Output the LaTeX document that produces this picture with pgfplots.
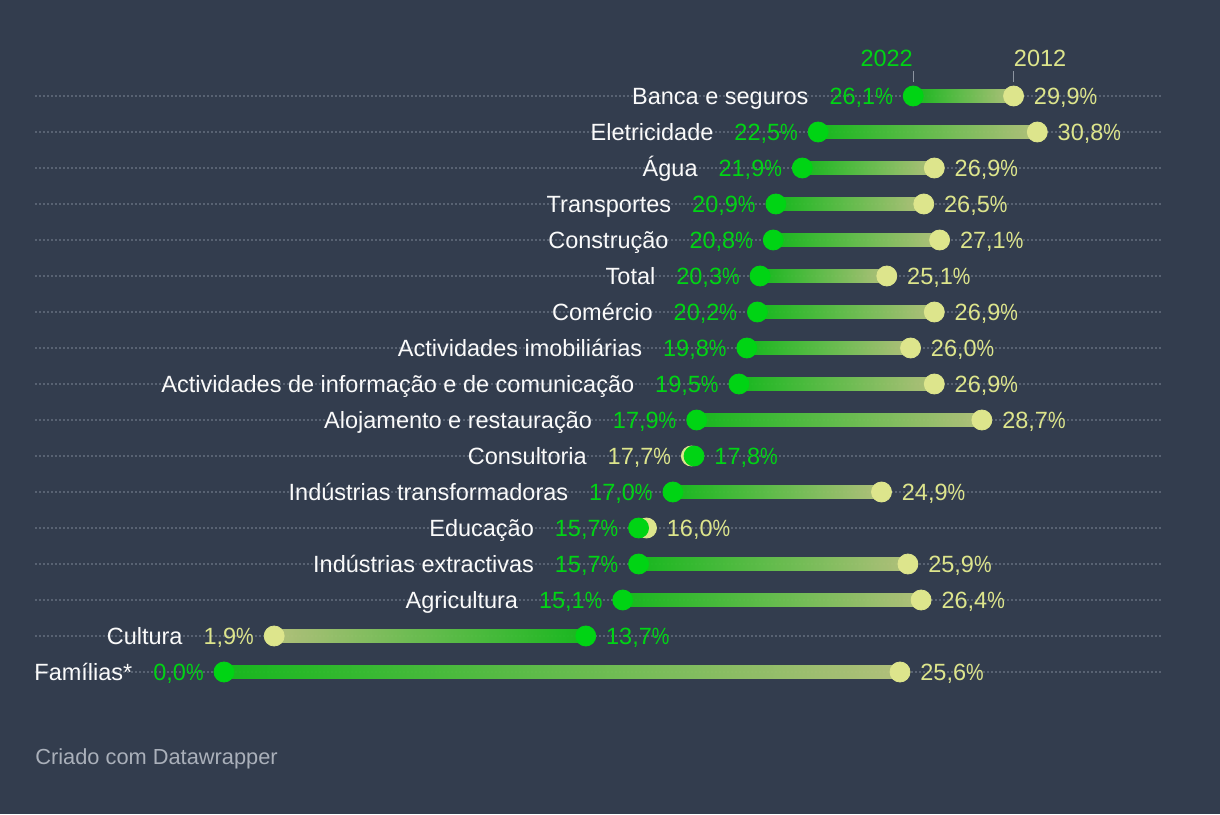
\documentclass[border=0pt]{standalone}
\usepackage{pgfplots}
\pgfplotsset{compat=1.18}
\usepackage{fontspec}
\setmainfont{Liberation Sans}
\definecolor{bg}{RGB}{51,61,78}
\definecolor{gr}{RGB}{0,212,20}
\definecolor{ye}{RGB}{221,229,140}
\definecolor{barG}{RGB}{22,190,28}
\definecolor{barY}{RGB}{184,198,126}
\definecolor{gridc}{RGB}{88,98,114}
\definecolor{txt}{RGB}{250,250,250}
\definecolor{foot}{RGB}{170,176,186}
\definecolor{tickc}{RGB}{140,148,160}

\newcommand{\pc}{\scalebox{0.84}[1]{\%}}
% gradient bar: y, x-left, x-right, colour left, colour right
\newcommand{\gbar}[5]{%
  \pgfmathsetmacro\ya{#1-0.167}\pgfmathsetmacro\yb{#1+0.167}%
  \addplot[draw=none, forget plot, fill opacity=0.95, left color=#4, right color=#5]
    coordinates {(#2,\ya) (#3,\ya) (#3,\yb) (#2,\yb)};
}
% labels: y, name, left x, left colour, left text, right x, right colour, right text
\newcommand{\rowlab}[8]{%
  \node[anchor=base east, inner sep=0pt, xshift=-10pt, yshift=-4.2pt] at (axis cs:#3,#1)
    {\textcolor{txt}{#2}\hspace{10.5pt}\textcolor{#4}{#5\pc}};
  \node[anchor=base west, inner sep=0pt, xshift=10pt, yshift=-4.2pt] at (axis cs:#6,#1)
    {\textcolor{#7}{#8\pc}};
}

\begin{document}
\fontsize{11.75pt}{14pt}\selectfont
\begin{tikzpicture}
\useasboundingbox (0,0) rectangle (610pt,407pt);
\fill[bg] (0,0) rectangle (610pt,407pt);
\begin{axis}[
  at={(17.5pt,62pt)}, anchor=south west,
  scale only axis, width=563.5pt, height=306pt,
  xmin=-7.157, xmax=35.522, ymin=-0.5, ymax=16.5,
  axis line style={draw=none},
  xtick=\empty, ytick={0,...,16}, yticklabels={},
  ytick style={draw=none},
  ymajorgrids,
  grid style={gridc, line width=0.8pt, dash pattern=on 0.8pt off 1.2pt},
  clip=false,
]
% bars (2022 -> 2012)
\gbar{16}{26.1}{29.9}{barG}{barY}
\gbar{15}{22.5}{30.8}{barG}{barY}
\gbar{14}{21.9}{26.9}{barG}{barY}
\gbar{13}{20.9}{26.5}{barG}{barY}
\gbar{12}{20.8}{27.1}{barG}{barY}
\gbar{11}{20.3}{25.1}{barG}{barY}
\gbar{10}{20.2}{26.9}{barG}{barY}
\gbar{9}{19.8}{26.0}{barG}{barY}
\gbar{8}{19.5}{26.9}{barG}{barY}
\gbar{7}{17.9}{28.7}{barG}{barY}
\gbar{6}{17.7}{17.8}{barY}{barG}
\gbar{5}{17.0}{24.9}{barG}{barY}
\gbar{4}{15.7}{16.0}{barG}{barY}
\gbar{3}{15.7}{25.9}{barG}{barY}
\gbar{2}{15.1}{26.4}{barG}{barY}
\gbar{1}{1.9}{13.7}{barY}{barG}
\gbar{0}{0.0}{25.6}{barG}{barY}
% 2012
\addplot[only marks, mark=*, mark size=5pt, color=ye, mark options={draw=ye, fill=ye}]
 coordinates {(29.9,16) (30.8,15) (26.9,14) (26.5,13) (27.1,12) (25.1,11) (26.9,10)
 (26.0,9) (26.9,8) (28.7,7) (17.7,6) (24.9,5) (16.0,4) (25.9,3) (26.4,2) (1.9,1) (25.6,0)};
% 2022
\addplot[only marks, mark=*, mark size=5pt, color=gr, mark options={draw=gr, fill=gr}]
 coordinates {(26.1,16) (22.5,15) (21.9,14) (20.9,13) (20.8,12) (20.3,11) (20.2,10)
 (19.8,9) (19.5,8) (17.9,7) (17.8,6) (17.0,5) (15.7,4) (15.7,3) (15.1,2) (13.7,1) (0.0,0)};

\rowlab{16}{Banca e seguros}{26.1}{gr}{26,1}{29.9}{ye}{29,9}
\rowlab{15}{Eletricidade}{22.5}{gr}{22,5}{30.8}{ye}{30,8}
\rowlab{14}{Água}{21.9}{gr}{21,9}{26.9}{ye}{26,9}
\rowlab{13}{Transportes}{20.9}{gr}{20,9}{26.5}{ye}{26,5}
\rowlab{12}{Construção}{20.8}{gr}{20,8}{27.1}{ye}{27,1}
\rowlab{11}{Total}{20.3}{gr}{20,3}{25.1}{ye}{25,1}
\rowlab{10}{Comércio}{20.2}{gr}{20,2}{26.9}{ye}{26,9}
\rowlab{9}{Actividades imobiliárias}{19.8}{gr}{19,8}{26.0}{ye}{26,0}
\rowlab{8}{Actividades de informação e de comunicação}{19.5}{gr}{19,5}{26.9}{ye}{26,9}
\rowlab{7}{Alojamento e restauração}{17.9}{gr}{17,9}{28.7}{ye}{28,7}
\rowlab{6}{Consultoria}{17.7}{ye}{17,7}{17.8}{gr}{17,8}
\rowlab{5}{Indústrias transformadoras}{17.0}{gr}{17,0}{24.9}{ye}{24,9}
\rowlab{4}{Educação}{15.7}{gr}{15,7}{16.0}{ye}{16,0}
\rowlab{3}{Indústrias extractivas}{15.7}{gr}{15,7}{25.9}{ye}{25,9}
\rowlab{2}{Agricultura}{15.1}{gr}{15,1}{26.4}{ye}{26,4}
\rowlab{1}{Cultura}{1.9}{ye}{1,9}{13.7}{gr}{13,7}
\rowlab{0}{Famílias*}{0.0}{gr}{0,0}{25.6}{ye}{25,6}

% header
\node[anchor=base east, inner sep=0pt, text=gr, yshift=14.5pt] at (axis cs:26.1,16) {2022};
\node[anchor=base west, inner sep=0pt, text=ye, yshift=14.5pt] at (axis cs:29.9,16) {2012};
\draw[tickc, line width=0.5pt] (axis cs:26.1,16.39) -- (axis cs:26.1,16.70);
\draw[tickc, line width=0.5pt] (axis cs:29.9,16.39) -- (axis cs:29.9,16.70);
\end{axis}
\node[anchor=base west, inner sep=0pt, text=foot, font=\fontsize{10.9pt}{13pt}\selectfont] at (17.5pt,25pt) {Criado com Datawrapper};
\end{tikzpicture}
\end{document}
